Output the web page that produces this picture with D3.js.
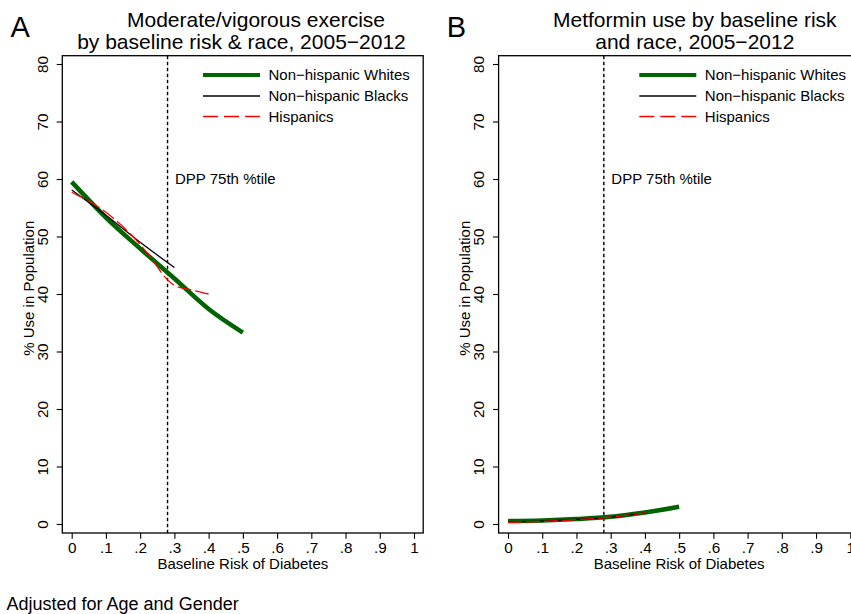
<!DOCTYPE html>
<html>
<head>
<meta charset="utf-8">
<script src="https://cdn.jsdelivr.net/npm/d3@7"></script>
<style>
  html, body { margin: 0; padding: 0; background: #fff; }
  svg { display: block; font-family: "Liberation Sans", Arial, Helvetica, sans-serif; }
</style>
</head>
<body>
<svg id="chart" width="851" height="614"></svg>
<script>
// ---------- data ----------
const seriesNames = ["Non\u2212hispanic Whites", "Non\u2212hispanic Blacks", "Hispanics"];
const xTicks = [0, .1, .2, .3, .4, .5, .6, .7, .8, .9, 1];
const xTickLabels = ["0", ".1", ".2", ".3", ".4", ".5", ".6", ".7", ".8", ".9", "1"];
const yTicks = [0, 10, 20, 30, 40, 50, 60, 70, 80];
const dppCutoff = 0.28;

// Panel A: moderate/vigorous exercise
const exerciseWhitesX = [0, .1, .2, .3, .4, .5];
const exerciseWhitesY = [59.5, 53.3, 47.9, 42.7, 37.4, 33.3];
const exerciseBlacksX = [0, .1, .2, .3];
const exerciseBlacksY = [58.1, 53.7, 49.0, 44.6];
const exerciseHispX = [0, .1, .2, .24, .27, .3, .35, .4];
const exerciseHispY = [57.7, 54.2, 48.6, 45.6, 43.1, 41.5, 40.7, 40.0];

// Panel B: metformin use
const metforminWhitesX = [0, .1, .2, .3, .4, .5];
const metforminWhitesY = [0.5, 0.6, 0.85, 1.25, 2.0, 3.0];
const metforminBlacksX = [0, .1, .2, .3, .4];
const metforminBlacksY = [0.4, 0.5, 0.8, 1.2, 1.95];
const metforminHispX = [0, .1, .2, .3, .4];
const metforminHispY = [0.3, 0.45, 0.75, 1.2, 1.95];

const panels = [
  { letter: "A", dx: 0,
    title1: "Moderate/vigorous exercise", t1x: 256,
    title2: "by baseline risk & race, 2005\u22122012", t2x: 241.5,
    series: [[exerciseWhitesX, exerciseWhitesY], [exerciseBlacksX, exerciseBlacksY], [exerciseHispX, exerciseHispY]] },
  { letter: "B", dx: 436.3,
    title1: "Metformin use by baseline risk", t1x: 258.5,
    title2: "and race, 2005\u22122012", t2x: 258.5,
    series: [[metforminWhitesX, metforminWhitesY], [metforminBlacksX, metforminBlacksY], [metforminHispX, metforminHispY]] }
];

// ---------- styles ----------
const styles = [
  { color: "#006400", width: 4.5, dash: null, legendDash: null, legendWidth: 3.8 },
  { color: "#000000", width: 1.3, dash: null, legendDash: null, legendWidth: 1.3 },
  { color: "#ff0000", width: 1.3, dash: "14,4", legendDash: "15,6", legendWidth: 1.4 }
];

const svg = d3.select("#chart");

const box = { left: 62.3, right: 423.2, top: 55.7, bottom: 533 };

panels.forEach(p => {
  const g = svg.append("g").attr("transform", `translate(${p.dx},0)`);
  const x = d3.scaleLinear().domain([0, 1]).range([71.7, 414]);
  const y = d3.scaleLinear().domain([0, 80]).range([524, 64]);

  // letter
  g.append("text").attr("x", 10.5).attr("y", 36.7)
    .attr("font-size", 29).text(p.letter);
  // titles
  g.append("text").attr("x", p.t1x).attr("y", 27).attr("text-anchor", "middle")
    .attr("font-size", 21).text(p.title1);
  g.append("text").attr("x", p.t2x).attr("y", 49).attr("text-anchor", "middle")
    .attr("font-size", 21).text(p.title2);

  // clip
  const clipId = "clip" + p.letter;
  g.append("clipPath").attr("id", clipId).append("rect")
    .attr("x", box.left).attr("y", box.top)
    .attr("width", box.right - box.left).attr("height", box.bottom - box.top);

  // y axis
  const yAxis = d3.axisLeft(y).tickValues(yTicks).tickSize(5.6).tickFormat(d3.format("d"));
  const ya = g.append("g").attr("transform", `translate(${box.left},0)`).call(yAxis);
  ya.select(".domain").remove();
  ya.selectAll(".tick line").attr("stroke", "#000").attr("stroke-width", 1.1);
  ya.selectAll(".tick text")
    .attr("font-size", 15.3).attr("font-family", "Liberation Sans, Arial, sans-serif")
    .attr("fill", "#000")
    .attr("x", null).attr("dy", null)
    .attr("text-anchor", "middle")
    .attr("transform", "translate(-19.6,0) rotate(-90)")
    .attr("y", 0).attr("dy", "0.35em");

  // x axis
  const xAxis = d3.axisBottom(x).tickValues(xTicks).tickSize(5.8)
    .tickFormat((d, i) => xTickLabels[i]);
  const xa = g.append("g").attr("transform", `translate(0,${box.bottom})`).call(xAxis);
  xa.select(".domain").remove();
  xa.selectAll(".tick line").attr("stroke", "#000").attr("stroke-width", 1.1);
  xa.selectAll(".tick text").attr("font-size", 15.3)
    .attr("font-family", "Liberation Sans, Arial, sans-serif").attr("fill", "#000")
    .attr("y", 20.3).attr("dy", null);

  // axis titles
  g.append("text").attr("x", (x(0) + x(1)) / 2).attr("y", 569.3).attr("text-anchor", "middle")
    .attr("font-size", 15).text("Baseline Risk of Diabetes");
  g.append("text").attr("transform", `translate(33.8,${y(41)}) rotate(-90)`)
    .attr("text-anchor", "middle").attr("font-size", 15).text("% Use in Population");

  // DPP line
  g.append("line").attr("x1", x(dppCutoff)).attr("x2", x(dppCutoff))
    .attr("y1", box.top).attr("y2", box.bottom)
    .attr("stroke", "#000").attr("stroke-width", 1.4).attr("stroke-dasharray", "3.5,2.5");
  g.append("text").attr("x", x(dppCutoff) + 7.5).attr("y", y(60) + 5.4)
    .attr("font-size", 15).text("DPP 75th %tile");

  // series
  const line = d3.line().curve(d3.curveMonotoneX);
  const plot = g.append("g").attr("clip-path", `url(#${clipId})`);
  p.series.forEach((s, i) => {
    const pts = s[0].map((xv, k) => [x(xv), y(s[1][k])]);
    plot.append("path").attr("d", line(pts)).attr("fill", "none")
      .attr("stroke", styles[i].color).attr("stroke-width", styles[i].width)
      .attr("stroke-dasharray", styles[i].dash)
      .attr("stroke-linejoin", "round");
  });

  // plot box
  g.append("rect").attr("x", box.left).attr("y", box.top)
    .attr("width", box.right - box.left).attr("height", box.bottom - box.top)
    .attr("fill", "none").attr("stroke", "#000").attr("stroke-width", 1.3);

  // legend
  const legY = [75, 96, 116.5];
  seriesNames.forEach((name, i) => {
    g.append("line").attr("x1", 203).attr("x2", 260).attr("y1", legY[i]).attr("y2", legY[i])
      .attr("stroke", styles[i].color).attr("stroke-width", styles[i].legendWidth)
      .attr("stroke-dasharray", styles[i].legendDash);
    g.append("text").attr("x", 268.5).attr("y", legY[i] + 5.3)
      .attr("font-size", 15).text(name);
  });
});

// note
svg.append("text").attr("x", 6.5).attr("y", 610).attr("font-size", 18)
  .text("Adjusted for Age and Gender");
</script>
</body>
</html>
